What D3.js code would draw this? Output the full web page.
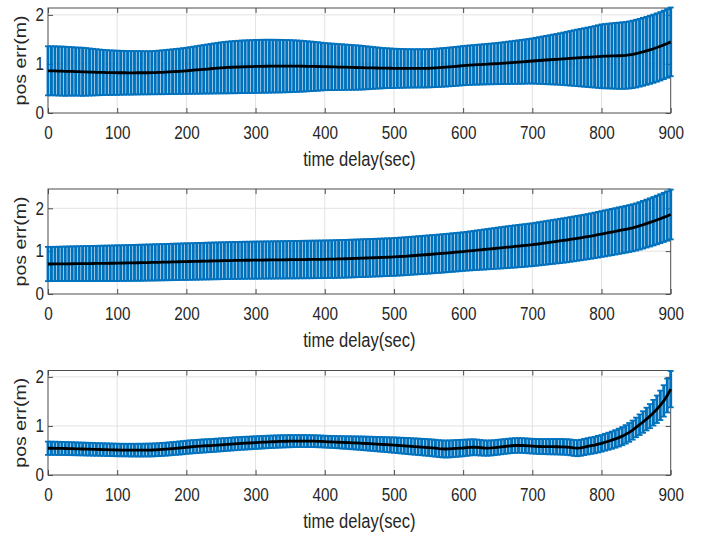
<!DOCTYPE html>
<meta charset="utf-8">
<style>
body { margin: 0; background: #fff; }
text { font-family: "Liberation Sans", Arial, sans-serif; fill: #262626; }
.grid line { stroke: #e2e2e2; stroke-width: 1; }
.ebar line { stroke: #0072bd; }
.axis path { display: none; }
.axis line { stroke: #4d4d4d; }
</style>
<svg width="712" height="535"></svg>
<script src="https://d3js.org/d3.v7.min.js"></script>
<script>

// time delay (sec), one errorbar every 5 s
var times = d3.range(0, 901, 5);
var xTicks = [0, 100, 200, 300, 400, 500, 600, 700, 800, 900];
var yTicks = [0, 1, 2];

// panel 1
var mean1 = [
  0.86,0.86,0.86,0.855,0.855,0.85,0.85,0.848,0.845,0.843,0.84,
  0.838,0.835,0.833,0.83,0.828,0.826,0.824,0.822,0.821,0.82,
  0.82,0.82,0.819,0.819,0.819,0.82,0.82,0.82,0.82,0.822,
  0.824,0.827,0.83,0.834,0.838,0.842,0.846,0.85,0.855,0.86,
  0.866,0.872,0.878,0.884,0.89,0.896,0.902,0.908,0.914,0.92,
  0.924,0.928,0.932,0.935,0.938,0.941,0.943,0.945,0.947,0.95,
  0.951,0.952,0.953,0.954,0.955,0.955,0.955,0.955,0.955,0.955,
  0.955,0.954,0.954,0.953,0.952,0.951,0.95,0.948,0.947,0.945,
  0.943,0.941,0.939,0.937,0.935,0.933,0.931,0.929,0.927,0.925,
  0.923,0.921,0.92,0.918,0.917,0.915,0.914,0.913,0.912,0.91,
  0.91,0.909,0.909,0.909,0.909,0.909,0.91,0.91,0.911,0.912,
  0.915,0.919,0.923,0.928,0.933,0.939,0.945,0.951,0.958,0.965,
  0.97,0.975,0.98,0.984,0.988,0.992,0.996,1.0,1.004,1.008,
  1.013,1.018,1.023,1.028,1.033,1.038,1.043,1.049,1.055,1.06,
  1.065,1.07,1.075,1.08,1.085,1.09,1.095,1.1,1.105,1.11,
  1.115,1.12,1.124,1.128,1.132,1.136,1.14,1.145,1.15,1.155,
  1.158,1.161,1.163,1.165,1.167,1.17,1.175,1.183,1.195,1.21,
  1.228,1.247,1.267,1.288,1.31,1.334,1.36,1.388,1.418,1.45
];
var err1 = [
  0.50,0.50,0.50,0.50,0.50,0.50,0.495,0.495,0.49,0.49,0.49,
  0.485,0.48,0.475,0.47,0.465,0.46,0.457,0.455,0.452,0.45,
  0.448,0.446,0.445,0.444,0.443,0.442,0.441,0.44,0.44,0.44,
  0.442,0.444,0.447,0.45,0.453,0.456,0.459,0.462,0.466,0.47,
  0.475,0.48,0.485,0.49,0.495,0.50,0.505,0.51,0.515,0.52,
  0.524,0.527,0.53,0.532,0.534,0.536,0.537,0.538,0.539,0.54,
  0.54,0.54,0.54,0.539,0.538,0.537,0.536,0.534,0.532,0.53,
  0.527,0.524,0.52,0.515,0.51,0.505,0.5,0.494,0.487,0.48,
  0.477,0.474,0.471,0.468,0.465,0.462,0.459,0.456,0.453,0.45,
  0.444,0.438,0.432,0.426,0.42,0.415,0.41,0.406,0.403,0.40,
  0.398,0.396,0.394,0.392,0.391,0.39,0.39,0.39,0.39,0.39,
  0.39,0.391,0.392,0.393,0.394,0.395,0.396,0.397,0.398,0.40,
  0.401,0.402,0.404,0.406,0.408,0.41,0.412,0.414,0.417,0.42,
  0.423,0.427,0.431,0.435,0.439,0.443,0.447,0.451,0.455,0.46,
  0.468,0.476,0.484,0.492,0.50,0.508,0.516,0.525,0.535,0.545,
  0.556,0.566,0.576,0.586,0.596,0.606,0.616,0.626,0.638,0.65,
  0.655,0.66,0.665,0.67,0.674,0.678,0.681,0.684,0.687,0.69,
  0.691,0.692,0.693,0.694,0.695,0.696,0.697,0.698,0.699,0.70
];

// panel 2
var mean2 = [
  0.70,0.70,0.701,0.702,0.703,0.704,0.705,0.706,0.707,0.708,0.709,
  0.71,0.711,0.712,0.713,0.714,0.715,0.716,0.717,0.718,0.72,
  0.721,0.723,0.724,0.726,0.727,0.729,0.73,0.732,0.734,0.736,
  0.738,0.74,0.742,0.744,0.746,0.748,0.75,0.752,0.754,0.756,
  0.758,0.76,0.762,0.764,0.766,0.768,0.77,0.772,0.774,0.776,
  0.778,0.78,0.781,0.783,0.784,0.786,0.787,0.788,0.789,0.79,
  0.791,0.792,0.793,0.794,0.795,0.796,0.797,0.798,0.799,0.80,
  0.801,0.802,0.803,0.804,0.805,0.806,0.807,0.808,0.809,0.81,
  0.812,0.814,0.816,0.818,0.82,0.822,0.825,0.828,0.831,0.834,
  0.837,0.84,0.843,0.846,0.849,0.852,0.855,0.858,0.861,0.865,
  0.87,0.875,0.88,0.886,0.892,0.898,0.904,0.91,0.916,0.922,
  0.928,0.934,0.94,0.947,0.954,0.961,0.968,0.975,0.982,0.99,
  0.998,1.006,1.014,1.022,1.03,1.038,1.046,1.054,1.062,1.07,
  1.078,1.086,1.094,1.102,1.11,1.118,1.126,1.134,1.142,1.15,
  1.161,1.172,1.183,1.194,1.205,1.216,1.227,1.238,1.249,1.26,
  1.273,1.286,1.299,1.312,1.325,1.338,1.352,1.367,1.383,1.40,
  1.415,1.43,1.446,1.462,1.478,1.494,1.51,1.527,1.545,1.565,
  1.59,1.616,1.643,1.67,1.698,1.727,1.757,1.788,1.82,1.855
];
var err2 = [
  0.40,0.40,0.40,0.401,0.402,0.403,0.404,0.405,0.406,0.407,0.408,
  0.409,0.41,0.41,0.411,0.412,0.413,0.413,0.414,0.415,0.416,
  0.416,0.417,0.418,0.418,0.419,0.42,0.42,0.421,0.421,0.422,
  0.422,0.423,0.423,0.424,0.424,0.425,0.425,0.426,0.426,0.427,
  0.427,0.427,0.428,0.428,0.428,0.429,0.429,0.429,0.43,0.43,
  0.43,0.43,0.431,0.431,0.431,0.432,0.432,0.432,0.433,0.433,
  0.433,0.434,0.434,0.434,0.435,0.435,0.435,0.436,0.436,0.436,
  0.437,0.437,0.437,0.437,0.438,0.438,0.438,0.438,0.439,0.439,
  0.439,0.439,0.44,0.44,0.44,0.44,0.44,0.44,0.44,0.44,
  0.44,0.44,0.44,0.44,0.44,0.44,0.44,0.44,0.44,0.44,
  0.441,0.441,0.442,0.442,0.443,0.443,0.444,0.444,0.445,0.445,
  0.446,0.446,0.447,0.447,0.448,0.448,0.449,0.449,0.45,0.45,
  0.452,0.455,0.458,0.461,0.464,0.467,0.47,0.473,0.476,0.479,
  0.482,0.485,0.488,0.49,0.492,0.494,0.496,0.497,0.498,0.50,
  0.502,0.504,0.506,0.508,0.51,0.512,0.514,0.516,0.518,0.52,
  0.521,0.522,0.523,0.524,0.525,0.527,0.529,0.531,0.533,0.535,
  0.537,0.538,0.54,0.541,0.543,0.544,0.546,0.547,0.549,0.55,
  0.553,0.556,0.559,0.562,0.565,0.568,0.571,0.574,0.577,0.58
];

// panel 3
var mean3 = [
  0.545,0.545,0.544,0.543,0.542,0.54,0.538,0.536,0.534,0.532,0.53,
  0.528,0.526,0.524,0.522,0.52,0.518,0.516,0.514,0.512,0.51,
  0.509,0.508,0.508,0.507,0.507,0.507,0.507,0.508,0.509,0.51,
  0.513,0.517,0.521,0.526,0.532,0.538,0.544,0.55,0.557,0.565,
  0.571,0.577,0.582,0.587,0.592,0.596,0.6,0.605,0.61,0.615,
  0.62,0.625,0.63,0.636,0.641,0.645,0.649,0.652,0.656,0.66,
  0.664,0.668,0.672,0.675,0.678,0.681,0.684,0.686,0.688,0.69,
  0.691,0.692,0.692,0.692,0.691,0.69,0.689,0.687,0.684,0.68,
  0.677,0.674,0.671,0.668,0.665,0.662,0.659,0.656,0.653,0.65,
  0.646,0.642,0.638,0.634,0.63,0.626,0.622,0.618,0.614,0.61,
  0.605,0.6,0.595,0.59,0.585,0.58,0.575,0.57,0.565,0.56,
  0.553,0.546,0.538,0.532,0.53,0.532,0.536,0.541,0.546,0.55,
  0.556,0.562,0.566,0.562,0.556,0.55,0.548,0.551,0.557,0.565,
  0.573,0.581,0.589,0.596,0.601,0.603,0.601,0.597,0.592,0.588,
  0.584,0.581,0.579,0.578,0.577,0.577,0.576,0.575,0.573,0.57,
  0.562,0.552,0.546,0.555,0.57,0.585,0.598,0.61,0.628,0.645,
  0.668,0.688,0.71,0.735,0.762,0.792,0.828,0.868,0.915,0.97,
  1.025,1.08,1.14,1.2,1.27,1.34,1.42,1.51,1.62,1.75
];
var err3 = [
  0.135,0.135,0.134,0.134,0.133,0.133,0.132,0.132,0.131,0.131,0.13,
  0.13,0.13,0.129,0.129,0.128,0.128,0.128,0.128,0.128,0.128,
  0.128,0.128,0.128,0.129,0.129,0.13,0.13,0.13,0.131,0.131,
  0.131,0.132,0.132,0.132,0.133,0.133,0.133,0.134,0.134,0.134,
  0.134,0.134,0.134,0.134,0.133,0.133,0.133,0.132,0.132,0.132,
  0.132,0.131,0.131,0.131,0.13,0.13,0.13,0.129,0.129,0.129,
  0.128,0.128,0.127,0.127,0.126,0.126,0.125,0.125,0.124,0.124,
  0.123,0.123,0.122,0.122,0.122,0.121,0.121,0.121,0.12,0.12,
  0.121,0.122,0.123,0.124,0.126,0.128,0.13,0.132,0.134,0.136,
  0.138,0.14,0.142,0.144,0.146,0.148,0.15,0.152,0.154,0.156,
  0.158,0.16,0.162,0.164,0.165,0.166,0.167,0.168,0.169,0.17,
  0.171,0.172,0.172,0.173,0.173,0.173,0.172,0.171,0.17,0.168,
  0.166,0.164,0.162,0.16,0.158,0.156,0.155,0.154,0.153,0.152,
  0.151,0.15,0.15,0.15,0.15,0.15,0.15,0.15,0.15,0.15,
  0.151,0.152,0.153,0.154,0.155,0.156,0.157,0.158,0.159,0.16,
  0.161,0.162,0.163,0.164,0.165,0.166,0.167,0.168,0.169,0.17,
  0.172,0.174,0.176,0.179,0.182,0.185,0.188,0.191,0.195,0.2,
  0.21,0.22,0.232,0.246,0.262,0.28,0.3,0.32,0.345,0.37
];

var yMax = [2.14, 2.45, 2.13];
var xLabel = "time delay(sec)";
var yLabel = "pos err(m)";

var series = [
  {mean: mean1, err: err1},
  {mean: mean2, err: err2},
  {mean: mean3, err: err3}
];

var svg = d3.select("svg");
var left = 48, right = 670.7;
var boxes = [
  {top: 8, bottom: 113},
  {top: 189, bottom: 294},
  {top: 370.5, bottom: 475}
];
var squeeze = "scale(0.85,1)";

var x = d3.scaleLinear().domain([0, 900]).range([left, right]);

series.forEach(function(s, k) {
  var b = boxes[k];
  var y = d3.scaleLinear().domain([0, yMax[k]]).range([b.bottom, b.top]);
  var g = svg.append("g");

  // grid
  var grid = g.append("g").attr("class", "grid");
  grid.selectAll("line.gx")
    .data(xTicks.slice(1, -1))
    .enter().append("line")
      .attr("x1", function(d) { return x(d); })
      .attr("x2", function(d) { return x(d); })
      .attr("y1", b.top)
      .attr("y2", b.bottom);
  grid.selectAll("line.gy")
    .data(yTicks.slice(1))
    .enter().append("line")
      .attr("x1", left)
      .attr("x2", right)
      .attr("y1", function(d) { return y(d); })
      .attr("y2", function(d) { return y(d); });

  // box
  g.append("rect")
    .attr("x", left).attr("y", b.top)
    .attr("width", right - left).attr("height", b.bottom - b.top)
    .attr("fill", "none").attr("stroke", "#4d4d4d").attr("stroke-width", 1);

  // axes, ticks inside
  var ax = g.append("g").attr("class", "axis")
      .attr("transform", "translate(0," + b.bottom + ")")
      .call(d3.axisBottom(x).tickValues(xTicks).tickSizeInner(-5).tickSizeOuter(0).tickPadding(13));
  ax.selectAll("text").attr("font-size", 18).attr("transform", squeeze).attr("font-family", null);

  g.append("g").attr("class", "axis")
      .attr("transform", "translate(0," + b.top + ")")
      .call(d3.axisTop(x).tickValues(xTicks).tickSizeInner(-5).tickSizeOuter(0).tickFormat(""));

  var ay = g.append("g").attr("class", "axis")
      .attr("transform", "translate(" + left + ",0)")
      .call(d3.axisLeft(y).tickValues(yTicks).tickSizeInner(-5).tickSizeOuter(0).tickPadding(4).tickFormat(d3.format("d")));
  ay.selectAll("text").attr("font-size", 18).attr("font-family", null)
      .attr("transform", function() { return "translate(" + d3.select(this).attr("x") + ",0) " + squeeze; })
      .attr("x", 0);

  g.append("g").attr("class", "axis")
      .attr("transform", "translate(" + right + ",0)")
      .call(d3.axisRight(y).tickValues(yTicks).tickSizeInner(-5).tickSizeOuter(0).tickFormat(""));

  // error bars
  var eb = g.append("g").attr("class", "ebar");
  var pts = times.map(function(t, i) { return {t: t, m: s.mean[i], e: s.err[i]}; });
  eb.selectAll("line.v")
    .data(pts)
    .enter().append("line")
      .attr("stroke-width", 2.9)
      .attr("x1", function(d) { return x(d.t); })
      .attr("x2", function(d) { return x(d.t); })
      .attr("y1", function(d) { return y(d.m - d.e); })
      .attr("y2", function(d) { return y(d.m + d.e); });
  ["lo", "hi"].forEach(function(side) {
    eb.selectAll("line.c" + side)
      .data(pts)
      .enter().append("line")
        .attr("stroke-width", 1.8)
        .attr("x1", function(d) { return x(d.t) - 3; })
        .attr("x2", function(d) { return x(d.t) + 3; })
        .attr("y1", function(d) { return y(side == "lo" ? d.m - d.e : d.m + d.e); })
        .attr("y2", function(d) { return y(side == "lo" ? d.m - d.e : d.m + d.e); });
  });

  // mean line
  g.append("path")
    .datum(pts)
    .attr("fill", "none")
    .attr("stroke", "#000")
    .attr("stroke-width", 2.8)
    .attr("d", d3.line().x(function(d) { return x(d.t); }).y(function(d) { return y(d.m); }));

  // labels
  g.append("text")
    .attr("transform", "translate(" + (left + right) / 2 + "," + (b.bottom + 53) + ") " + squeeze)
    .attr("text-anchor", "middle")
    .attr("font-size", 19.5)
    .text(xLabel);

  g.append("text")
    .attr("transform", "translate(26," + (b.top + b.bottom) / 2 + ") " + squeeze + " rotate(-90)")
    .attr("text-anchor", "middle")
    .attr("font-size", 19.5)
    .text(yLabel);
});

</script>
